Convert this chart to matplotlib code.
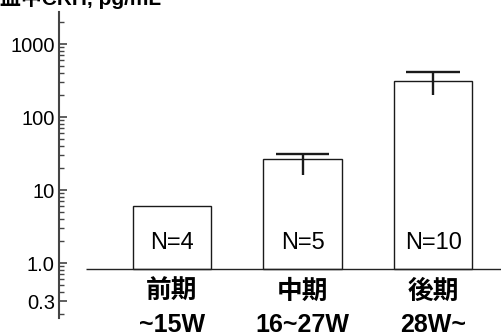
import numpy as np
import matplotlib
matplotlib.use("Agg")
import matplotlib.pyplot as plt
from matplotlib.transforms import blended_transform_factory
from matplotlib.ticker import FixedLocator, LogLocator, NullFormatter

plt.rcParams['font.family'] = ['Liberation Sans', 'Noto Sans CJK JP', 'DejaVu Sans']

# ── data ──────────────────────────────────────────────
stages   = ["前期", "中期", "後期"]
weeks    = ["~15W", "16~27W", "28W~"]
means    = [6.1, 26.3, 314.0]
err_low  = [np.nan, 16.0, 200.0]
err_high = [np.nan, 31.0, 410.0]
n_labels = ["N=4", "N=5", "N=10"]

y_ticks  = [0.3, 1.0, 10, 100, 1000]
y_labels = ["0.3", "1.0", "10", "100", "1000"]

BASE = 0.83   # bars rise from this level (drawn horizontal line)

W, H = 501, 336
fig = plt.figure(figsize=(W / 100, H / 100), dpi=100)
ax = fig.add_axes([59 / W, 1 - 318 / H, (W - 59) / W, 306 / H])

x = np.arange(len(means))
ax.set_yscale("log")
ax.set_ylim(0.177, 2743)
ax.set_xlim(-0.866, 2.52)

# ── bars ─────────────────────────────────────────────
heights = [m - BASE for m in means]
ax.bar(x, heights, bottom=BASE, width=0.6, color="white",
       edgecolor="#1a1a1a", linewidth=1.0, zorder=2)

# ── error bars (upper cap only) ──────────────────────
ax.vlines(x, err_low, err_high, color="#1a1a1a", linewidth=1.7, zorder=3)
ax.hlines(err_high, x - 0.205, x + 0.205, color="#1a1a1a",
          linewidth=1.7, zorder=3)

# baseline
ax.hlines(BASE, -0.66, 2.52, color="#222222", linewidth=1.0, zorder=4)

# ── N labels inside bars ─────────────────────────────
tr_ax = blended_transform_factory(ax.transData, ax.transAxes)
for xi, lab in zip(x, n_labels):
    ax.text(xi, 0.245, lab, transform=tr_ax, ha="center", va="center",
            fontsize=17, color="black", zorder=5)

# ── category labels ──────────────────────────────────
tr_fig = blended_transform_factory(ax.transData, fig.transFigure)
for xi, s, w in zip(x, stages, weeks):
    ax.text(xi, 1 - 292 / H, s, transform=tr_fig, ha="center", va="center",
            fontsize=18.5, fontweight="bold")
    ax.text(xi, 1 - 325 / H, w, transform=tr_fig, ha="center", va="center",
            fontsize=18, fontweight="bold")

# ── axes styling ─────────────────────────────────────
for side in ["top", "right", "bottom"]:
    ax.spines[side].set_visible(False)
ax.spines["left"].set_color("#444444")
ax.spines["left"].set_linewidth(1.5)

ax.yaxis.set_major_locator(FixedLocator(y_ticks))
ax.set_yticklabels(y_labels)
ax.yaxis.set_minor_locator(LogLocator(base=10, subs=np.arange(2, 10)))
ax.yaxis.set_minor_formatter(NullFormatter())
ax.tick_params(axis="y", which="major", direction="in", length=6,
               width=1.2, color="#444444", labelsize=14.5, pad=3)
ax.tick_params(axis="y", which="minor", direction="in", length=3.5,
               width=1.0, color="#444444")
ax.set_xticks([])

# title (cut at the top edge, as in the source)
fig.text(0.0, 1 - 5 / H, "血中CRH, pg/mL", ha="left", va="baseline",
         fontsize=15, fontweight="bold")

fig.savefig("out.png", dpi=100)
